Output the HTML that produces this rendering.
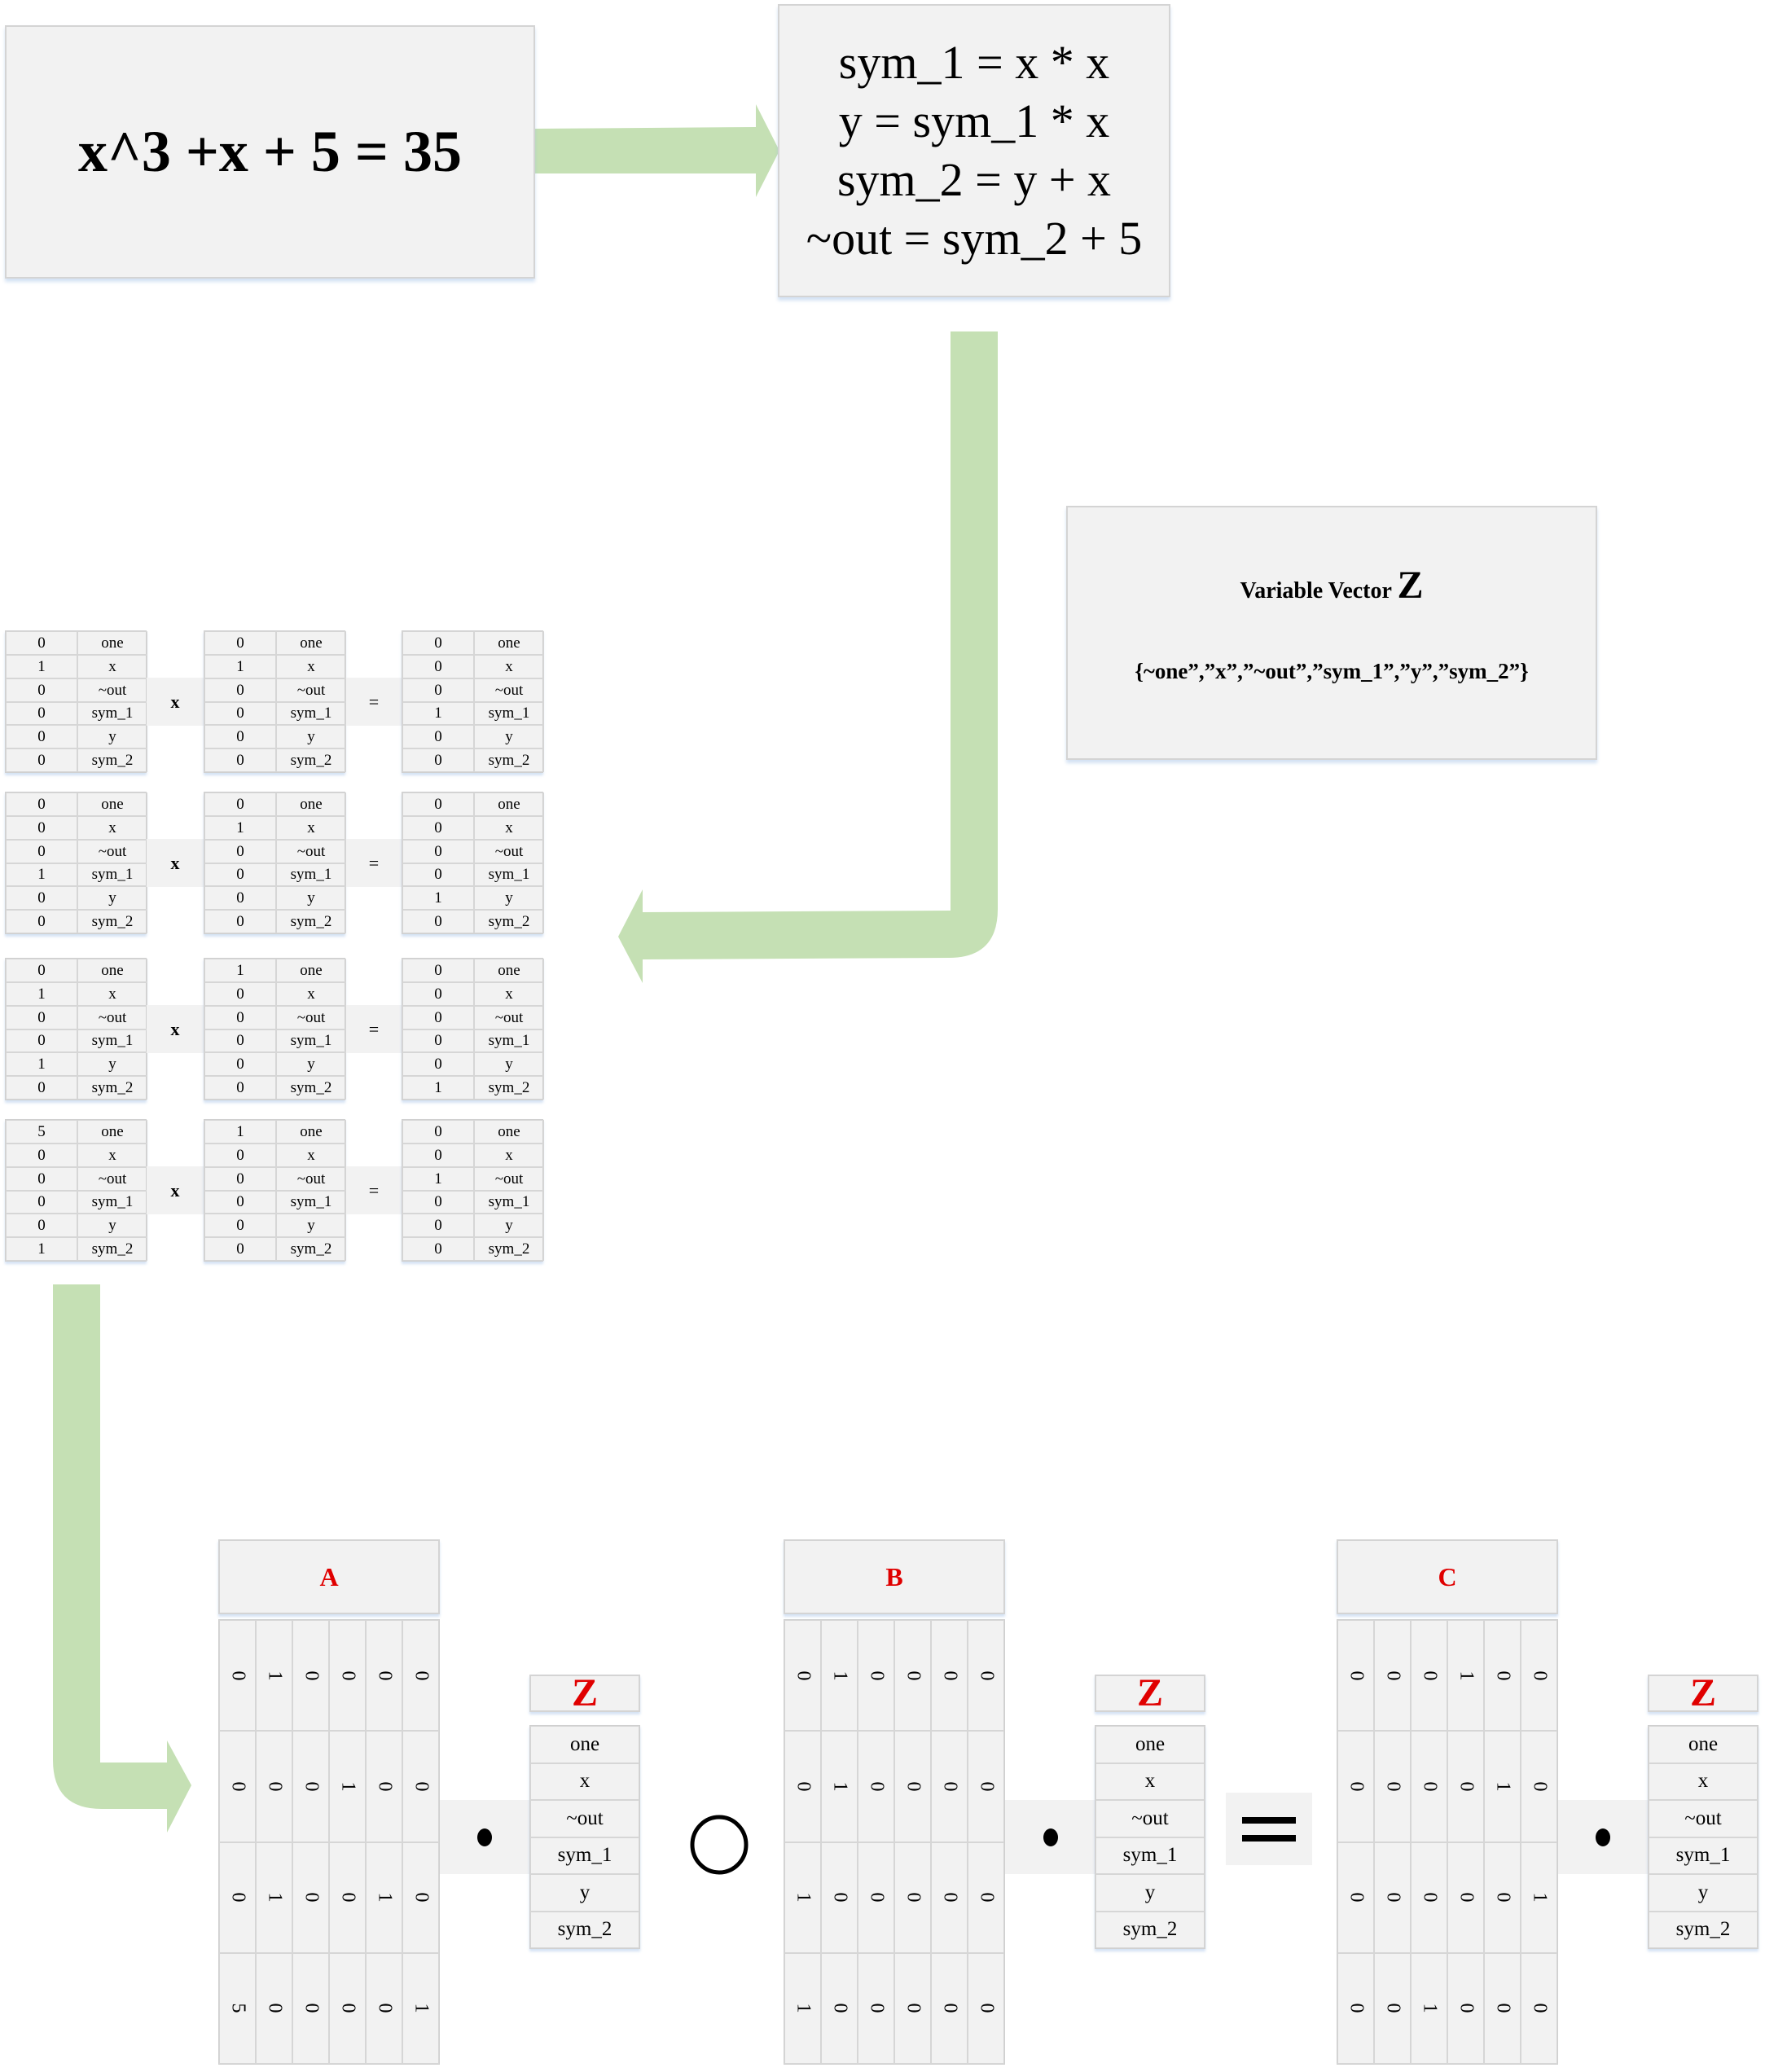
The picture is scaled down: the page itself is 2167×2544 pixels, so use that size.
<!DOCTYPE html>
<html><head><meta charset="utf-8"><style>
*{margin:0;padding:0;box-sizing:border-box}
body{width:2167px;height:2544px;background:#fff;position:relative;overflow:hidden;font-family:"Liberation Serif",serif;color:#000}
.a{position:absolute}
.box{position:absolute;background:#f2f2f2;border:2px solid #d4d4d4;box-shadow:0 4px 4px rgba(160,190,230,.45)}
.t{position:absolute;display:grid;grid-template-columns:88px 86px;grid-template-rows:repeat(6,1fr);height:175px;width:174px;background:#f2f2f2;border:1px solid #d0d0d0;box-shadow:0 3px 3px rgba(160,190,230,.45)}
.t div{border:1px solid #d6d6d6;display:flex;align-items:center;justify-content:center;font-size:19px;line-height:1}
.op{position:absolute;background:#f2f2f2;display:flex;align-items:center;justify-content:center;font-size:22px}
.m{position:absolute;display:grid;grid-template-columns:repeat(6,1fr);grid-template-rows:repeat(4,1fr);width:272px;height:547px;background:#f2f2f2;border:1px solid #d0d0d0}
.m div{border:1px solid #d6d6d6;display:flex;align-items:center;justify-content:center;font-size:24px}
.m div span{display:inline-block;transform:rotate(90deg)}
.hd{position:absolute;width:272px;height:92px;background:#f2f2f2;border:2px solid #d4d4d4;box-shadow:0 3px 3px rgba(160,190,230,.45);color:#e00000;font-weight:bold;font-size:32px;display:flex;align-items:center;justify-content:center}
.zl{position:absolute;width:136px;height:46px;background:#f2f2f2;border:2px solid #d4d4d4;box-shadow:0 3px 3px rgba(160,190,230,.45);color:#e00000;font-weight:bold;font-size:48px;display:flex;align-items:center;justify-content:center;line-height:1}
.zv{position:absolute;width:136px;display:grid;grid-template-rows:repeat(6,45.5px);background:#f2f2f2;border:1px solid #d0d0d0;box-shadow:0 3px 3px rgba(160,190,230,.45)}
.zv div{border:1px solid #d6d6d6;display:flex;align-items:center;justify-content:center;font-size:25px}
.dot{position:absolute;background:#f2f2f2;display:flex;align-items:center;justify-content:center}
.dot i{width:18px;height:22px;border-radius:50%;background:#000;display:block}
</style></head><body>

<svg class="a" style="left:0;top:0" width="2167" height="2544">
<g fill="#c5e0b4">
<polygon points="657,158 928,156 928,128 957,185 928,242 928,213 657,213"/>
<path d="M1167,407 H1225 V1116 Q1225,1176 1165,1176 L789,1178 V1207 L759,1150 L789,1092 V1120 L1167,1118 Z"/>
<path d="M65,1577 H123 V2164 H205 V2137 L235,2192 L205,2250 V2221 H125 Q65,2221 65,2161 Z"/>
</g>
<ellipse cx="883" cy="2265" rx="33" ry="34" fill="none" stroke="#000" stroke-width="5"/>
</svg>

<div class="box" style="left:6px;top:31px;width:651px;height:311px;display:flex;align-items:center;justify-content:center;font-weight:bold;font-size:72px">x^3 +x + 5 = 35</div>

<div class="box" style="left:955px;top:5px;width:482px;height:360px;font-size:58px;text-align:center;line-height:72px;padding-top:34px">sym_1 = x * x<br>y = sym_1 * x<br>sym_2 = y + x<br>~out = sym_2 + 5</div>

<div class="box" style="left:1309px;top:621px;width:652px;height:312px;text-align:center;font-weight:bold">
<div class="a" style="left:0;right:0;top:68px;font-size:28px">Variable Vector <span style="font-size:48px">Z</span></div>
<div class="a" style="left:0;right:0;top:186px;font-size:27px">{~one”,”x”,”~out”,”sym_1”,”y”,”sym_2”}</div>
</div>

<!-- group 1 -->
<div class="t" style="left:6px;top:774px"><div>0</div><div>one</div><div>1</div><div>x</div><div>0</div><div>~out</div><div>0</div><div>sym_1</div><div>0</div><div>y</div><div>0</div><div>sym_2</div></div>
<div class="op" style="left:180px;top:832px;width:70px;height:59px;font-weight:bold">x</div>
<div class="t" style="left:250px;top:774px"><div>0</div><div>one</div><div>1</div><div>x</div><div>0</div><div>~out</div><div>0</div><div>sym_1</div><div>0</div><div>y</div><div>0</div><div>sym_2</div></div>
<div class="op" style="left:425px;top:832px;width:68px;height:59px">=</div>
<div class="t" style="left:493px;top:774px"><div>0</div><div>one</div><div>0</div><div>x</div><div>0</div><div>~out</div><div>1</div><div>sym_1</div><div>0</div><div>y</div><div>0</div><div>sym_2</div></div>

<!-- group 2 -->
<div class="t" style="left:6px;top:972px"><div>0</div><div>one</div><div>0</div><div>x</div><div>0</div><div>~out</div><div>1</div><div>sym_1</div><div>0</div><div>y</div><div>0</div><div>sym_2</div></div>
<div class="op" style="left:180px;top:1030px;width:70px;height:59px;font-weight:bold">x</div>
<div class="t" style="left:250px;top:972px"><div>0</div><div>one</div><div>1</div><div>x</div><div>0</div><div>~out</div><div>0</div><div>sym_1</div><div>0</div><div>y</div><div>0</div><div>sym_2</div></div>
<div class="op" style="left:425px;top:1030px;width:68px;height:59px">=</div>
<div class="t" style="left:493px;top:972px"><div>0</div><div>one</div><div>0</div><div>x</div><div>0</div><div>~out</div><div>0</div><div>sym_1</div><div>1</div><div>y</div><div>0</div><div>sym_2</div></div>

<!-- group 3 -->
<div class="t" style="left:6px;top:1176px"><div>0</div><div>one</div><div>1</div><div>x</div><div>0</div><div>~out</div><div>0</div><div>sym_1</div><div>1</div><div>y</div><div>0</div><div>sym_2</div></div>
<div class="op" style="left:180px;top:1234px;width:70px;height:59px;font-weight:bold">x</div>
<div class="t" style="left:250px;top:1176px"><div>1</div><div>one</div><div>0</div><div>x</div><div>0</div><div>~out</div><div>0</div><div>sym_1</div><div>0</div><div>y</div><div>0</div><div>sym_2</div></div>
<div class="op" style="left:425px;top:1234px;width:68px;height:59px">=</div>
<div class="t" style="left:493px;top:1176px"><div>0</div><div>one</div><div>0</div><div>x</div><div>0</div><div>~out</div><div>0</div><div>sym_1</div><div>0</div><div>y</div><div>1</div><div>sym_2</div></div>

<!-- group 4 -->
<div class="t" style="left:6px;top:1374px"><div>5</div><div>one</div><div>0</div><div>x</div><div>0</div><div>~out</div><div>0</div><div>sym_1</div><div>0</div><div>y</div><div>1</div><div>sym_2</div></div>
<div class="op" style="left:180px;top:1432px;width:70px;height:59px;font-weight:bold">x</div>
<div class="t" style="left:250px;top:1374px"><div>1</div><div>one</div><div>0</div><div>x</div><div>0</div><div>~out</div><div>0</div><div>sym_1</div><div>0</div><div>y</div><div>0</div><div>sym_2</div></div>
<div class="op" style="left:425px;top:1432px;width:68px;height:59px">=</div>
<div class="t" style="left:493px;top:1374px"><div>0</div><div>one</div><div>0</div><div>x</div><div>1</div><div>~out</div><div>0</div><div>sym_1</div><div>0</div><div>y</div><div>0</div><div>sym_2</div></div>

<!-- A -->
<div class="hd" style="left:268px;top:1890px">A</div>
<div class="m" style="left:268px;top:1988px">
<div><span>0</span></div><div><span>1</span></div><div><span>0</span></div><div><span>0</span></div><div><span>0</span></div><div><span>0</span></div>
<div><span>0</span></div><div><span>0</span></div><div><span>0</span></div><div><span>1</span></div><div><span>0</span></div><div><span>0</span></div>
<div><span>0</span></div><div><span>1</span></div><div><span>0</span></div><div><span>0</span></div><div><span>1</span></div><div><span>0</span></div>
<div><span>5</span></div><div><span>0</span></div><div><span>0</span></div><div><span>0</span></div><div><span>0</span></div><div><span>1</span></div>
</div>
<div class="dot" style="left:540px;top:2210px;width:110px;height:91px"><i></i></div>
<div class="zl" style="left:650px;top:2056px">Z</div>
<div class="zv" style="left:650px;top:2118px"><div>one</div><div>x</div><div>~out</div><div>sym_1</div><div>y</div><div>sym_2</div></div>

<!-- B -->
<div class="hd" style="left:962px;top:1890px">B</div>
<div class="m" style="left:962px;top:1988px">
<div><span>0</span></div><div><span>1</span></div><div><span>0</span></div><div><span>0</span></div><div><span>0</span></div><div><span>0</span></div>
<div><span>0</span></div><div><span>1</span></div><div><span>0</span></div><div><span>0</span></div><div><span>0</span></div><div><span>0</span></div>
<div><span>1</span></div><div><span>0</span></div><div><span>0</span></div><div><span>0</span></div><div><span>0</span></div><div><span>0</span></div>
<div><span>1</span></div><div><span>0</span></div><div><span>0</span></div><div><span>0</span></div><div><span>0</span></div><div><span>0</span></div>
</div>
<div class="dot" style="left:1234px;top:2210px;width:111px;height:91px"><i></i></div>
<div class="zl" style="left:1344px;top:2056px">Z</div>
<div class="zv" style="left:1344px;top:2118px"><div>one</div><div>x</div><div>~out</div><div>sym_1</div><div>y</div><div>sym_2</div></div>

<div class="dot" style="left:1505px;top:2201px;width:106px;height:89px"><div style="width:66px;height:30px;border-top:8px solid #000;border-bottom:8px solid #000"></div></div>

<!-- C -->
<div class="hd" style="left:1641px;top:1890px">C</div>
<div class="m" style="left:1641px;top:1988px">
<div><span>0</span></div><div><span>0</span></div><div><span>0</span></div><div><span>1</span></div><div><span>0</span></div><div><span>0</span></div>
<div><span>0</span></div><div><span>0</span></div><div><span>0</span></div><div><span>0</span></div><div><span>1</span></div><div><span>0</span></div>
<div><span>0</span></div><div><span>0</span></div><div><span>0</span></div><div><span>0</span></div><div><span>0</span></div><div><span>1</span></div>
<div><span>0</span></div><div><span>0</span></div><div><span>1</span></div><div><span>0</span></div><div><span>0</span></div><div><span>0</span></div>
</div>
<div class="dot" style="left:1913px;top:2210px;width:110px;height:91px"><i></i></div>
<div class="zl" style="left:2023px;top:2056px">Z</div>
<div class="zv" style="left:2023px;top:2118px"><div>one</div><div>x</div><div>~out</div><div>sym_1</div><div>y</div><div>sym_2</div></div>

</body></html>
